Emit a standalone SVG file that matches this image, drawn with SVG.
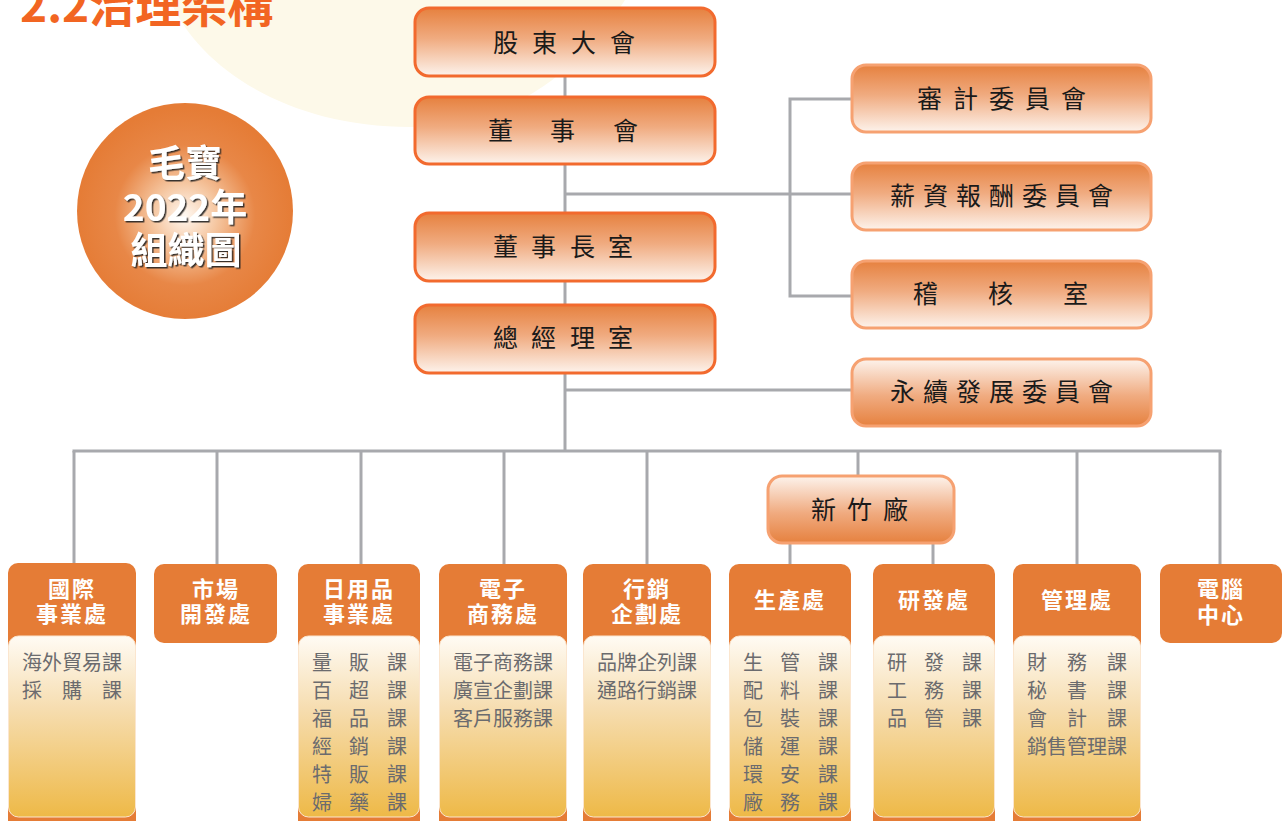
<svg xmlns="http://www.w3.org/2000/svg" width="1282" height="821" viewBox="0 0 1282 821">
<defs>
<linearGradient id="gDown" x1="0" y1="0" x2="0" y2="1">
<stop offset="0" stop-color="#e6813f"/>
<stop offset="0.45" stop-color="#f0ab80"/>
<stop offset="1" stop-color="#fdf3ec"/>
</linearGradient>
<linearGradient id="gUp" x1="0" y1="0" x2="0" y2="1">
<stop offset="0" stop-color="#fdf3ec"/>
<stop offset="0.55" stop-color="#f0ab80"/>
<stop offset="1" stop-color="#e6813f"/>
</linearGradient>
<linearGradient id="gSub" x1="0" y1="0" x2="0" y2="1">
<stop offset="0" stop-color="#fffbf4"/>
<stop offset="0.4" stop-color="#f6ddb0"/>
<stop offset="1" stop-color="#eeb947"/>
</linearGradient>
<radialGradient id="gCircle" cx="0.5" cy="0.52" r="0.5">
<stop offset="0" stop-color="#fff8f1"/>
<stop offset="0.3" stop-color="#f5c6a0"/>
<stop offset="0.65" stop-color="#e88747"/>
<stop offset="1" stop-color="#e57c36"/>
</radialGradient>
<filter id="shadow" x="-20%" y="-20%" width="140%" height="140%">
<feDropShadow dx="1.5" dy="1.5" stdDeviation="0.6" flood-color="#222" flood-opacity="0.9"/>
</filter>
</defs>
<style>
.box1{fill:url(#gDown);stroke:#f26a2e;stroke-width:3}
.box2{fill:url(#gDown);stroke:#f6a171;stroke-width:3}
.box3{fill:url(#gUp);stroke:#f6a171;stroke-width:3}
.t{font-family:"Noto Sans CJK TC","Noto Sans CJK SC",sans-serif;font-size:25px;fill:#1a1a1a}
.hd{fill:#e57c36}
.sub{fill:url(#gSub);stroke:#fbe6cf;stroke-width:1}
.ht{font-family:"Noto Sans CJK TC","Noto Sans CJK SC",sans-serif;font-size:22px;font-weight:bold;fill:#ffffff;text-anchor:middle;letter-spacing:2px}
.st{font-family:"Noto Sans CJK TC","Noto Sans CJK SC",sans-serif;font-size:20px;fill:#6b6b6e}
.ln{stroke:#a8a9ad;stroke-width:3;fill:none}
</style>
<path d="M170,0 C200,70 290,127 410,127 C510,127 580,70 625,0 Z" fill="#fdf9e9"/>
<text x="20" y="22" font-family="'Noto Sans CJK TC','Noto Sans CJK SC',sans-serif" font-size="46" font-weight="bold" fill="#f26522">2.2治理架構</text>
<g id="logo">
<circle cx="185" cy="211" r="108" fill="url(#gCircle)"/>
<text font-family="'Noto Sans CJK TC','Noto Sans CJK SC',sans-serif" font-size="37" font-weight="bold" fill="#ffffff" text-anchor="middle" filter="url(#shadow)"><tspan x="185" y="177">毛寶</tspan><tspan x="185" y="221">2022年</tspan><tspan x="186" y="264">組織圖</tspan></text>
</g>
<g id="connectors">
<line class="ln" x1="565" y1="76" x2="565" y2="451"/>
<line class="ln" x1="565" y1="194" x2="852" y2="194"/>
<polyline class="ln" points="852,99 790,99 790,296 852,296"/>
<line class="ln" x1="565" y1="390" x2="852" y2="390"/>
<line class="ln" x1="72.5" y1="451" x2="1221.5" y2="451"/>
<line class="ln" x1="74" y1="451" x2="74" y2="564"/>
<line class="ln" x1="217" y1="451" x2="217" y2="564"/>
<line class="ln" x1="361" y1="451" x2="361" y2="564"/>
<line class="ln" x1="504" y1="451" x2="504" y2="564"/>
<line class="ln" x1="647" y1="451" x2="647" y2="564"/>
<line class="ln" x1="858" y1="451" x2="858" y2="476"/>
<line class="ln" x1="1077" y1="451" x2="1077" y2="564"/>
<line class="ln" x1="1220" y1="451" x2="1220" y2="564"/>
<line class="ln" x1="790" y1="543" x2="790" y2="564"/>
<line class="ln" x1="933" y1="543" x2="933" y2="564"/>
</g>
<g id="n-shareholders"><rect class="box1" x="415" y="8" width="300" height="68" rx="14"/><text class="t" x="493 532 571 610" y="52">股東大會</text></g>
<g id="n-board"><rect class="box1" x="415" y="97" width="300" height="67" rx="14"/><text class="t" x="488 550 613" y="140">董事會</text></g>
<g id="n-chairman"><rect class="box1" x="415" y="213" width="300" height="68" rx="14"/><text class="t" x="493 531 570 608" y="256">董事長室</text></g>
<g id="n-gm"><rect class="box1" x="415" y="305" width="300" height="68" rx="14"/><text class="t" x="493 531 570 608" y="347">總經理室</text></g>
<g id="n-audit"><rect class="box2" x="852" y="65" width="299" height="67" rx="14"/><text class="t" x="917 953 989 1025 1061" y="108">審計委員會</text></g>
<g id="n-comp"><rect class="box2" x="852" y="163" width="299" height="67" rx="14"/><text class="t" x="890 923 956 989 1022 1055 1088" y="205">薪資報酬委員會</text></g>
<g id="n-internal"><rect class="box2" x="852" y="261" width="299" height="67" rx="14"/><text class="t" x="913 988 1063" y="303">稽核室</text></g>
<g id="n-esg"><rect class="box3" x="852" y="359" width="299" height="67" rx="14"/><text class="t" x="890 923 956 989 1022 1055 1088" y="401">永續發展委員會</text></g>
<g id="n-hsinchu"><rect class="box3" x="768" y="476" width="186" height="67" rx="14"/><text class="t" x="811 847 883" y="519">新竹廠</text></g>

<g id="d-intl">
<rect class="hd" x="8" y="563" width="128" height="270" rx="10"/>
<rect class="sub" x="8.5" y="636" width="127" height="181" rx="10"/>
<text class="ht"><tspan x="72" y="597">國際</tspan><tspan x="72" y="622">事業處</tspan></text>
<text class="st" x="22" y="670">海外貿易課</text>
<text class="st" x="22 62 102" y="698">採購課</text>
</g>
<g id="d-market">
<rect class="hd" x="154" y="564" width="123" height="79" rx="10"/>
<text class="ht"><tspan x="216" y="597">市場</tspan><tspan x="216" y="622">開發處</tspan></text>
</g>
<g id="d-daily">
<rect class="hd" x="298" y="564" width="122" height="270" rx="10"/>
<rect class="sub" x="298.5" y="636" width="121" height="181" rx="10"/>
<text class="ht"><tspan x="359" y="597">日用品</tspan><tspan x="359" y="622">事業處</tspan></text>
<text class="st" x="312 349 387" y="670">量販課</text>
<text class="st" x="312 349 387" y="698">百超課</text>
<text class="st" x="312 349 387" y="726">福品課</text>
<text class="st" x="312 349 387" y="754">經銷課</text>
<text class="st" x="312 349 387" y="782">特販課</text>
<text class="st" x="312 349 387" y="810">婦藥課</text>
</g>
<g id="d-ecom">
<rect class="hd" x="439" y="564" width="128" height="270" rx="10"/>
<rect class="sub" x="439.5" y="636" width="127" height="181" rx="10"/>
<text class="ht"><tspan x="503" y="597">電子</tspan><tspan x="503" y="622">商務處</tspan></text>
<text class="st" x="453" y="670">電子商務課</text>
<text class="st" x="453" y="698">廣宣企劃課</text>
<text class="st" x="453" y="726">客戶服務課</text>
</g>
<g id="d-mkt">
<rect class="hd" x="583" y="564" width="128" height="270" rx="10"/>
<rect class="sub" x="583.5" y="636" width="127" height="181" rx="10"/>
<text class="ht"><tspan x="647" y="597">行銷</tspan><tspan x="647" y="622">企劃處</tspan></text>
<text class="st" x="597" y="670">品牌企列課</text>
<text class="st" x="597" y="698">通路行銷課</text>
</g>
<g id="d-prod">
<rect class="hd" x="729" y="564" width="122" height="270" rx="10"/>
<rect class="sub" x="729.5" y="636" width="121" height="181" rx="10"/>
<text class="ht" x="790" y="608">生產處</text>
<text class="st" x="743 780 818" y="670">生管課</text>
<text class="st" x="743 780 818" y="698">配料課</text>
<text class="st" x="743 780 818" y="726">包裝課</text>
<text class="st" x="743 780 818" y="754">儲運課</text>
<text class="st" x="743 780 818" y="782">環安課</text>
<text class="st" x="743 780 818" y="810">廠務課</text>
</g>
<g id="d-rd">
<rect class="hd" x="873" y="564" width="122" height="270" rx="10"/>
<rect class="sub" x="873.5" y="636" width="121" height="181" rx="10"/>
<text class="ht" x="934" y="608">研發處</text>
<text class="st" x="887 924 962" y="670">研發課</text>
<text class="st" x="887 924 962" y="698">工務課</text>
<text class="st" x="887 924 962" y="726">品管課</text>
</g>
<g id="d-admin">
<rect class="hd" x="1013" y="564" width="128" height="270" rx="10"/>
<rect class="sub" x="1013.5" y="636" width="127" height="181" rx="10"/>
<text class="ht" x="1077" y="608">管理處</text>
<text class="st" x="1027 1067 1107" y="670">財務課</text>
<text class="st" x="1027 1067 1107" y="698">秘書課</text>
<text class="st" x="1027 1067 1107" y="726">會計課</text>
<text class="st" x="1027" y="754">銷售管理課</text>
</g>
<g id="d-it">
<rect class="hd" x="1160" y="564" width="122" height="79" rx="10"/>
<text class="ht"><tspan x="1221" y="597">電腦</tspan><tspan x="1221" y="623">中心</tspan></text>
</g>
</svg>
